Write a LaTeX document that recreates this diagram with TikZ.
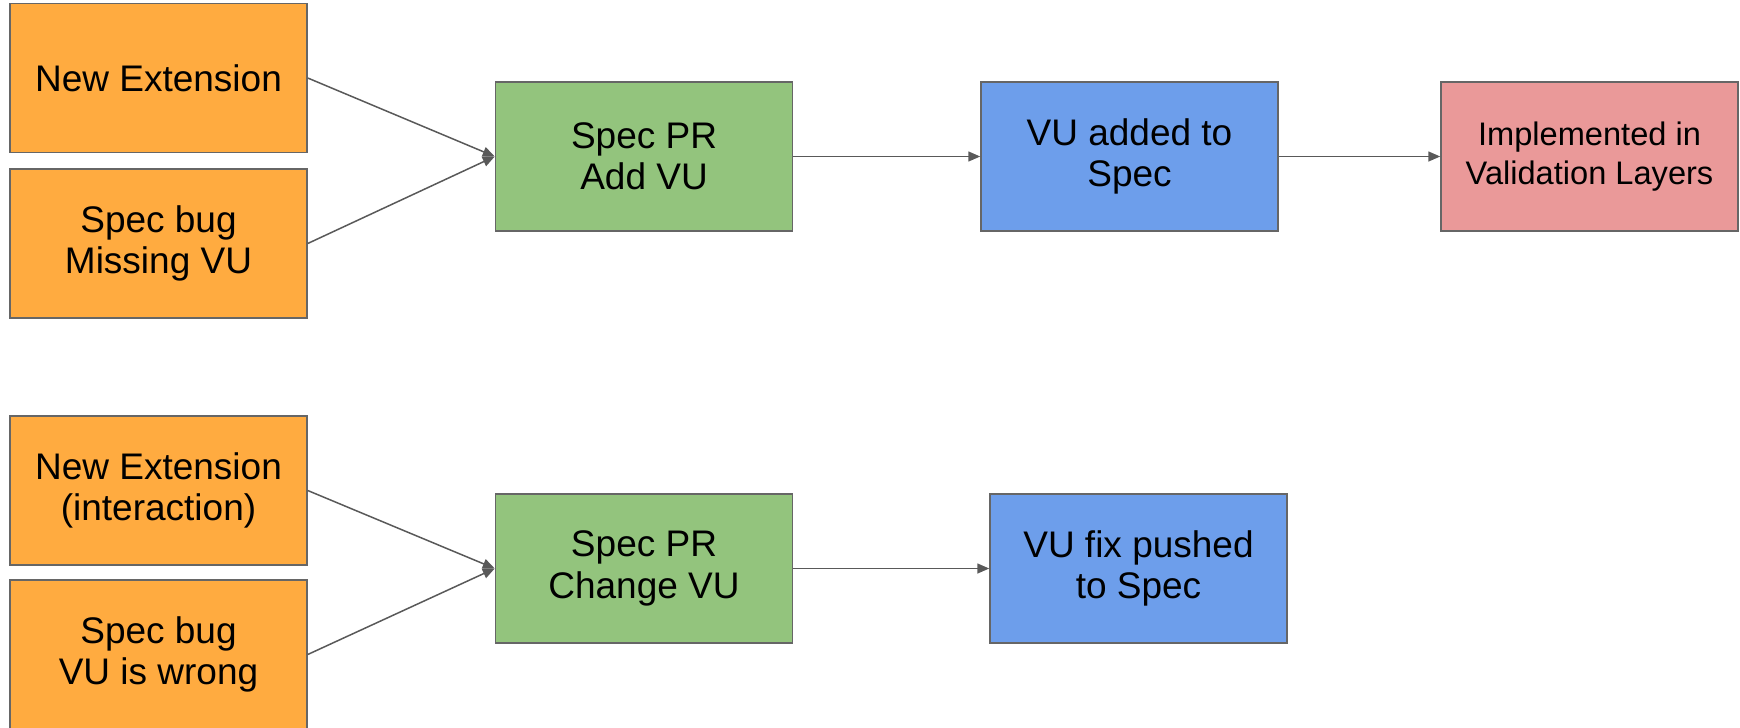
\documentclass[tikz,border=0pt]{standalone}
\usepackage{fontspec}
\setmainfont{Liberation Sans}
\usepackage{tikz}
\usetikzlibrary{arrows.meta,positioning}
\definecolor{extorange}{HTML}{FFAB40}
\definecolor{prgreen}{HTML}{93C47D}
\definecolor{specblue}{HTML}{6D9EEB}
\definecolor{vlpink}{HTML}{EA9999}
\definecolor{edgegray}{HTML}{666666}
\definecolor{arrowgray}{HTML}{595959}

\begin{document}
\begin{tikzpicture}[x=0.5pt,y=-0.5pt,
    stagebox/.style={draw=edgegray,line width=0.75pt,minimum width=148.5pt,minimum height=74.5pt,
        inner sep=0pt,align=center,font=\fontsize{18.5}{20.6}\selectfont},
    flow/.style={draw=arrowgray,line width=0.75pt,-{Triangle[length=6pt,width=5pt]}}]
    \useasboundingbox (0,0) rectangle (1740,728);
    % first row: a VU gets added
    \node[stagebox,fill=extorange] (ext1) at (158.5,78) {New Extension};
    \node[stagebox,fill=extorange] (bug1) at (158.5,243.5) {Spec bug\\Missing VU};
    \node[stagebox,fill=prgreen] (pr1) at (644,156.5) {Spec PR\\Add VU};
    \node[stagebox,fill=specblue] (added) at (1129.5,156.5) {VU added to\\Spec};
    \node[stagebox,fill=vlpink,font=\fontsize{16.3}{19.6}\selectfont] (vl) at (1589.5,156.5) {Implemented in\\Validation Layers};
    \draw[flow] (ext1.east) -- (pr1.west);
    \draw[flow] (bug1.east) -- (pr1.west);
    \draw[flow] (pr1) -- (added);
    \draw[flow] (added) -- (vl);
    % second row: a VU gets fixed
    \node[stagebox,fill=extorange] (ext2) at (158.5,490.5) {New Extension\\(interaction)};
    \node[stagebox,fill=extorange] (bug2) at (158.5,654.5) {Spec bug\\VU is wrong};
    \node[stagebox,fill=prgreen] (pr2) at (644,568.5) {Spec PR\\Change VU};
    \node[stagebox,fill=specblue] (fix) at (1138.5,568.5) {VU fix pushed\\to Spec};
    \draw[flow] (ext2.east) -- (pr2.west);
    \draw[flow] (bug2.east) -- (pr2.west);
    \draw[flow] (pr2) -- (fix);
\end{tikzpicture}
\end{document}
